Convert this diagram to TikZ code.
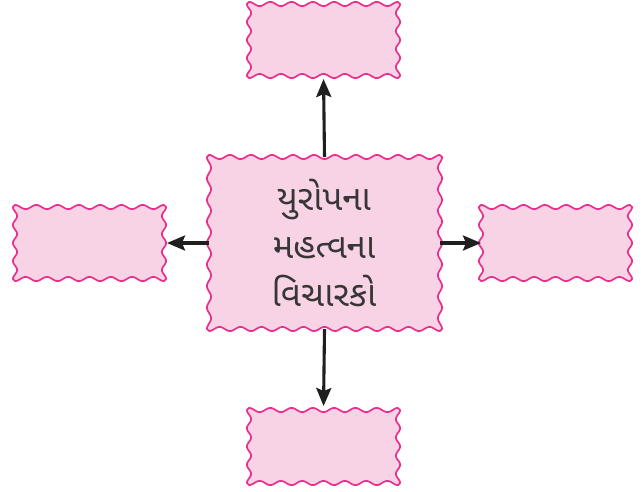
\documentclass[tikz,border=0pt]{standalone}
\usepackage{fontspec}
\newfontfamily\gujfont[Script=Gujarati]{Noto Sans Gujarati UI}
\usetikzlibrary{arrows.meta}
\definecolor{boxfill}{HTML}{F8D3E5}
\definecolor{boxline}{HTML}{E8308C}
\definecolor{txt}{HTML}{363636}
\tikzset{
  wavyline/.style={draw=boxline, fill=boxfill, line width=1.7pt, line join=round},
  anchorbox/.style={inner sep=0pt, outer sep=0pt},
  conn/.style={-{Stealth[length=18pt,width=15pt,inset=3pt]}, line width=3.1pt, draw=black!88}
}
\newcommand\amp{2.1}
% #1 name, #2 x1, #3 y1, #4 x2, #5 y2, #6 waves horizontally, #7 waves vertically
\newcommand\wbox[7]{%
  \path[wavyline] (#2,{#3-\amp})
    -- plot[domain=0:1,samples=161,variable=\t] ({#2+\t*(#4-#2)}, {#3-\amp*cos(360*#6*\t)})
    -- plot[domain=0:1,samples=101,variable=\t] ({#4+\amp*cos(360*#7*\t)}, {#3+\t*(#5-#3)})
    -- plot[domain=0:1,samples=161,variable=\t] ({#4-\t*(#4-#2)}, {#5+\amp*cos(360*#6*\t)})
    -- plot[domain=0:1,samples=101,variable=\t] ({#2-\amp*cos(360*#7*\t)}, {#5-\t*(#5-#3)})
    -- cycle;
  \node[anchorbox, minimum width={(#4-#2)*1pt}, minimum height={(#5-#3)*1pt}] (#1) at ({(#2+#4)/2},{(#3+#5)/2}) {};
}
\begin{document}
\begin{tikzpicture}[x=1pt,y=-1pt]
\useasboundingbox (0,0) rectangle (644,491);
\wbox{c}{209}{157}{440}{329}{11}{8}
\wbox{n}{249}{4}{398}{76}{7}{4}
\wbox{s}{249}{410}{398}{483}{7}{4}
\wbox{w}{15}{207}{164}{279}{7}{4}
\wbox{e}{481}{207}{630}{279}{7}{4}
\node[text=txt, align=center, font=\gujfont\fontsize{35pt}{48pt}\selectfont] (t) at (324,243) {યુરોપના\\મહત્વના\\વિચારકો};
\draw[conn, shorten >=3pt] (c.north) -- (n.south);
\draw[conn, shorten >=4pt] (c.south) -- (s.north);
\draw[conn, shorten >=3pt] (c.west) -- (w.east);
\draw[conn] (c.east) -- (e.west);
\end{tikzpicture}
\end{document}
